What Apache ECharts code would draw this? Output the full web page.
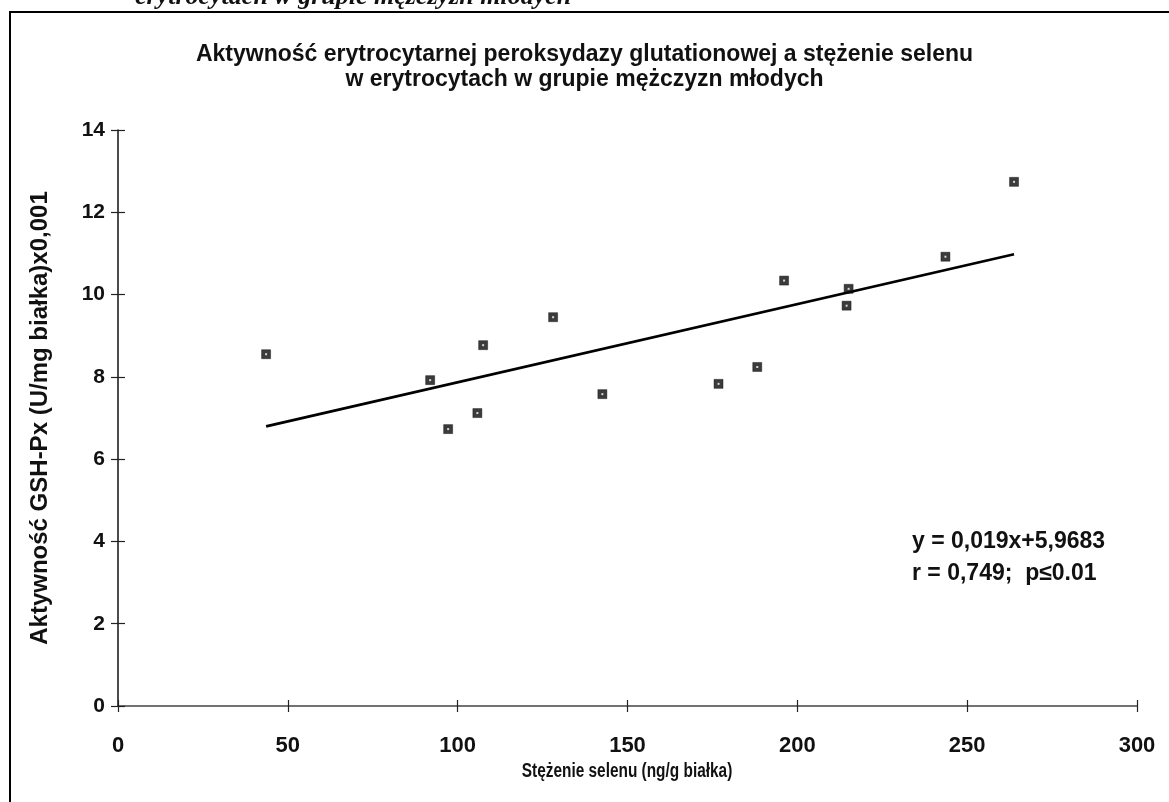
<!DOCTYPE html>
<html>
<head>
<meta charset="utf-8">
<title>GSH-Px a selen</title>
<script src="https://cdn.jsdelivr.net/npm/echarts@6/dist/echarts.min.js"></script>
<style>
  html, body { margin: 0; padding: 0; background: #fff; }
  #chart { width: 1169px; height: 802px; }
</style>
</head>
<body>
<div id="chart"></div>
<script>
// Stężenie selenu w erytrocytach (ng/g białka)
const selen = [43.6, 91.9, 97.2, 105.8, 107.5, 128.1, 142.6, 176.8, 188.2, 196.1, 214.5, 215.1, 243.6, 263.8];
// Aktywność GSH-Px (U/mg białka) x0,001
const gshpx = [8.55, 7.92, 6.73, 7.12, 8.77, 9.45, 7.58, 7.83, 8.24, 10.34, 9.73, 10.14, 10.92, 12.74];

// Regression line y = 0,019x + 5,9683 over the range of the measurements
const slope = 0.019;
const intercept = 5.9683;
const fitRange = [43.6, 263.8];

const xTicks = [0, 50, 100, 150, 200, 250, 300];
const yTicks = [0, 2, 4, 6, 8, 10, 12, 14];

const titleLines = [
  'Aktywność erytrocytarnej peroksydazy glutationowej a stężenie selenu',
  'w erytrocytach w grupie mężczyzn młodych'
];
const captionFragment = 'erytrocytach w grupie mężczyzn młodych';
const xAxisTitle = 'Stężenie selenu (ng/g białka)';
const yAxisTitle = 'Aktywność GSH-Px (U/mg białka)x0,001';
const equationLines = ['y = 0,019x+5,9683', 'r = 0,749;  p\u22640.01'];

const points = selen.map((x, i) => [x, gshpx[i]]);
const fitLine = fitRange.map(x => [x, slope * x + intercept]);

const FONT = '"Liberation Sans", Arial, sans-serif';
const chart = echarts.init(document.getElementById('chart'), null, { renderer: 'canvas' });

const xBase = {
  type: 'value',
  min: xTicks[0],
  max: xTicks[xTicks.length - 1],
  interval: 50,
  splitLine: { show: false }
};
const yBase = {
  type: 'value',
  min: yTicks[0],
  max: yTicks[yTicks.length - 1],
  interval: 2,
  splitLine: { show: false }
};

chart.setOption({
  backgroundColor: '#ffffff',
  animation: false,
  title: {
    text: titleLines.join('\n'),
    left: 'center',
    top: 37,
    textStyle: {
      fontFamily: FONT,
      fontWeight: 'bold',
      fontSize: 23,
      lineHeight: 25,
      color: '#111'
    }
  },
  grid: { left: 118, right: 32, top: 130, bottom: 96, containLabel: false },
  xAxis: [
    Object.assign({}, xBase, {
      axisLine: { show: true, lineStyle: { color: '#444', width: 1.5 } },
      axisTick: { show: true, length: 6, lineStyle: { color: '#222', width: 1.2 } },
      axisLabel: { margin: 29, fontFamily: FONT, fontWeight: 'bold', fontSize: 22, color: '#111' }
    }),
    Object.assign({}, xBase, {
      position: 'bottom',
      axisLine: { show: false },
      axisTick: { show: true, inside: true, length: 6, lineStyle: { color: '#222', width: 1.2 } },
      axisLabel: { show: false }
    })
  ],
  yAxis: [
    Object.assign({}, yBase, {
      name: yAxisTitle,
      nameLocation: 'middle',
      nameGap: 66,
      nameTextStyle: { fontFamily: FONT, fontWeight: 'bold', fontSize: 24, color: '#111' },
      axisLine: { show: true, lineStyle: { color: '#111', width: 1.5 } },
      axisTick: { show: true, length: 7, lineStyle: { color: '#222', width: 1.2 } },
      axisLabel: { margin: 13, fontFamily: FONT, fontWeight: 'bold', fontSize: 21, color: '#111' }
    }),
    Object.assign({}, yBase, {
      position: 'left',
      axisLine: { show: false },
      axisTick: { show: true, inside: true, length: 7, lineStyle: { color: '#222', width: 1.2 } },
      axisLabel: { show: false }
    })
  ],
  series: [
    {
      name: 'regresja',
      type: 'line',
      data: fitLine,
      symbol: 'none',
      lineStyle: { color: '#000', width: 2.6 },
      z: 2
    },
    {
      name: 'pomiary',
      type: 'scatter',
      data: points,
      symbol: 'rect',
      symbolSize: 9,
      itemStyle: { color: '#0a0a0a', borderColor: '#000', borderWidth: 0.5 },
      z: 3
    },
    {
      name: 'pomiary-srodek',
      type: 'scatter',
      data: points,
      symbol: 'rect',
      symbolSize: 2,
      itemStyle: { color: '#fff' },
      silent: true,
      z: 4
    }
  ],
  graphic: [
    // frame of the figure box
    {
      type: 'polyline',
      shape: { points: [[10, 802], [10, 12], [1169, 12]] },
      style: { stroke: '#000', lineWidth: 2, fill: null },
      silent: true
    },
    // caption line running above the figure box
    {
      type: 'text',
      left: 135,
      top: -16,
      style: {
        text: captionFragment,
        font: 'italic bold 26px "Liberation Serif", "Times New Roman", serif',
        fill: '#111'
      },
      silent: true
    },
    // x-axis title, set in a condensed bold face
    {
      type: 'text',
      x: 627,
      y: 771,
      scaleX: 0.77,
      style: {
        text: xAxisTitle,
        font: 'bold 20px "Liberation Sans", Arial, sans-serif',
        align: 'center',
        verticalAlign: 'middle',
        fill: '#111'
      },
      silent: true
    },
    {
      type: 'text',
      left: 912,
      top: 526,
      style: {
        text: equationLines.join('\n'),
        font: 'bold 23px "Liberation Sans", Arial, sans-serif',
        lineHeight: 32,
        fill: '#111'
      },
      silent: true
    }
  ]
});
</script>
</body>
</html>
